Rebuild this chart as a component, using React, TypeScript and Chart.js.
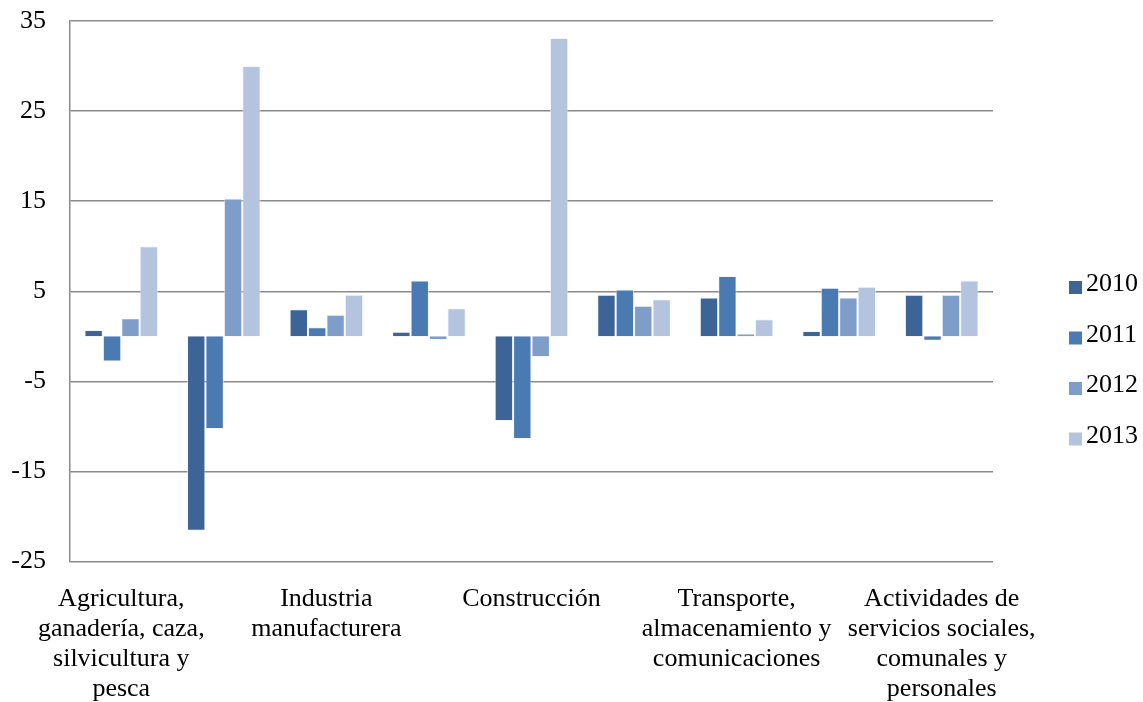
import React, { useEffect, useRef } from "react";
import { Chart, registerables } from "chart.js";

Chart.register(...registerables);

const categories: (string | string[])[] = [
  ["Agricultura,", "ganadería, caza,", "silvicultura y", "pesca"],
  "",
  ["Industria", "manufacturera"],
  "",
  ["Construcción"],
  "",
  ["Transporte,", "almacenamiento y", "comunicaciones"],
  "",
  ["Actividades de", "servicios sociales,", "comunales y", "personales"],
];

const seriesNames = ["2010", "2011", "2012", "2013"];
const values2010 = [0.7, -21.6, 3.0, 0.5, -9.4, 4.6, 4.3, 0.6, 4.6];
const values2011 = [-2.8, -10.3, 1.0, 6.2, -11.4, 5.2, 6.7, 5.4, -0.5];
const values2012 = [2.0, 15.3, 2.4, -0.4, -2.3, 3.4, 0.3, 4.3, 4.6];
const values2013 = [10.0, 30.0, 4.6, 3.1, 33.1, 4.1, 1.9, 5.5, 6.2];
const seriesColors = ["#3C6496", "#4A7AB2", "#7F9DC9", "#B4C4DF"];

const yMin = -25;
const yMax = 35;
const yStep = 10;

const FONT = "'Liberation Serif', 'Times New Roman', serif";

const legendPlugin = {
  id: "sideLegend",
  afterDraw(chart: any) {
    const ctx = chart.ctx;
    const datasets = chart.data.datasets;
    ctx.save();
    ctx.font = `26px ${FONT}`;
    ctx.textAlign = "left";
    ctx.textBaseline = "alphabetic";
    const x = 1069;
    const baseY = 291;
    const gap = 50.5;
    datasets.forEach((ds: any, i: number) => {
      const y = baseY + i * gap;
      ctx.fillStyle = ds.backgroundColor;
      ctx.fillRect(x, y - 10, 13, 13);
      ctx.fillStyle = "#000";
      ctx.fillText(ds.label, x + 17, y);
    });
    ctx.restore();
  },
};

export default function App() {
  const ref = useRef<HTMLCanvasElement | null>(null);

  useEffect(() => {
    if (!ref.current) return;
    Chart.defaults.font.family = FONT;
    const seriesValues = [values2010, values2011, values2012, values2013];
    const chart = new Chart(ref.current, {
      type: "bar",
      data: {
        labels: categories,
        datasets: seriesNames.map((name, i) => ({
          label: name,
          data: seriesValues[i],
          backgroundColor: seriesColors[i],
          borderColor: "rgba(235,240,248,0.6)",
          borderWidth: 1,
          borderSkipped: "start" as const,
          barPercentage: 1,
          categoryPercentage: 0.718,
        })),
      },
      options: {
        animation: false,
        responsive: true,
        maintainAspectRatio: false,
        layout: { padding: { top: 21, right: 150, bottom: 0, left: 0 } },
        plugins: {
          legend: { display: false },
          tooltip: { enabled: false },
        },
        scales: {
          x: {
            grid: { display: false, drawTicks: false },
            border: { display: false },
            afterFit: (scale: any) => {
              scale.height = 140.5;
            },
            ticks: {
              autoSkip: false,
              maxRotation: 0,
              minRotation: 0,
              color: "#000",
              padding: 23,
              font: { size: 26, family: FONT, lineHeight: 30 / 26 },
            },
          },
          y: {
            min: yMin,
            max: yMax,
            afterFit: (scale: any) => {
              scale.width = 70;
              scale.paddingTop = 0;
              scale.paddingBottom = 0;
            },
            ticks: {
              stepSize: yStep,
              color: "#000",
              padding: 24,
              font: { size: 26, family: FONT, lineHeight: 1 },
            },
            grid: { color: "#8a8a8a", lineWidth: 1.5, drawTicks: false },
            border: { display: true, color: "#8a8a8a", width: 1.5 },
          },
        },
      },
      plugins: [legendPlugin],
    });
    return () => chart.destroy();
  }, []);

  return (
    <div
      style={{
        position: "fixed",
        left: 0,
        top: 0,
        width: 1143,
        height: 702,
        background: "#fff",
      }}
    >
      <canvas ref={ref} />
    </div>
  );
}
